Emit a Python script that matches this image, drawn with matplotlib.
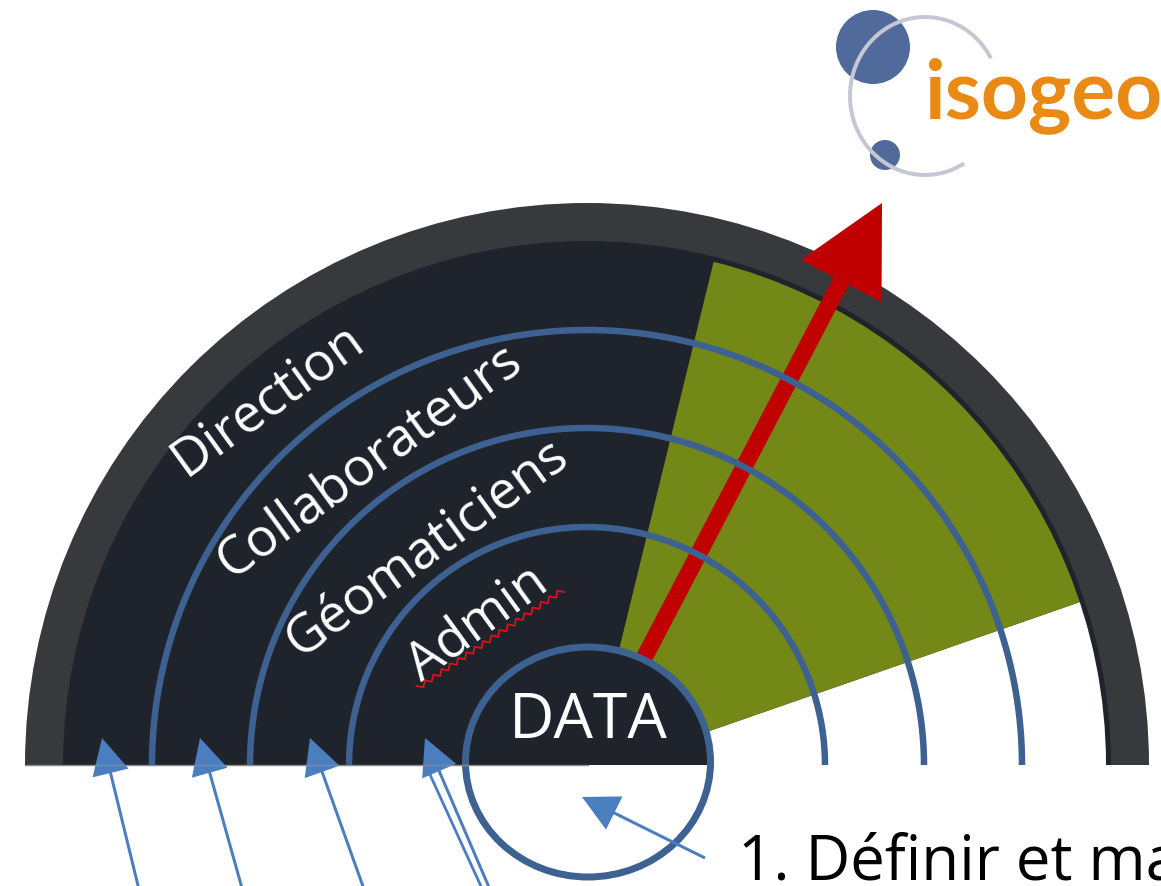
import numpy as np
import matplotlib
matplotlib.use("Agg")
import matplotlib.pyplot as plt
from matplotlib.patches import Wedge, Ellipse, Circle, FancyArrow

W, H = 1161, 886
PX = 0.72  # points per pixel at dpi 100

# geometry (pixel coords, y downwards)
centre = (587, 765)
outer_r = 562
ring_r = 524
green_r = 519
wedge_apex = (589, 773)
green_from, green_to = 19.2, 76.3    # screen angles from the apex, degrees
arc_radii = [435, 337, 238]

ring_labels = ["Direction", "Collaborateurs", "Géomaticiens", "Admin"]
label_x = [268, 370, 427, 478]
label_y = [400, 462, 548, 624]
label_rot = 36

data_label = "DATA"
data_xy = (588, 762)
data_w, data_h = 245, 230

# red arrow (start, tip)
red_start = (643, 660)
red_tip = (882, 203)

# blue pointer arrows from below
ptr_tail_x = [143, 247, 370, 497]
ptr_tip_x = [102, 200, 310, 425]
ptr_tail_y = 886
ptr_tip_y = 738
data_ptr_tail = (705, 858)
data_ptr_tip = (582, 797)

caption = "1. Définir et ma"

# logo
logo_text = "isogeo"
logo_ring_c = (925, 96)
big_dot = (873, 47, 37)
small_dot = (885, 155, 15)

DARK = "#1f232b"
RING = "#38393d"
GREEN = "#748817"
BLUE = "#3d6191"
PTR = "#4a7ebf"
RED = "#c00000"

plt.rcParams["font.family"] = ["Open Sans", "DejaVu Sans"]

fig = plt.figure(figsize=(W / 100, H / 100), dpi=100)
ax = fig.add_axes([0, 0, 1, 1])
ax.set_xlim(0, W)
ax.set_ylim(H, 0)
ax.axis("off")

# y axis is inverted, so screen angle a becomes -a in data
ax.add_patch(Wedge(centre, outer_r, -180, 0, width=outer_r - ring_r + 2, color=RING, lw=0))
ax.add_patch(Wedge(centre, ring_r, -180, 0, color=DARK, lw=0))
inner = Wedge(centre, green_r, -180, 0, transform=ax.transData)
white = Wedge(wedge_apex, 700, -green_from, 0, color="white", lw=0)
ax.add_patch(white)
white.set_clip_path(inner)
green = Wedge(wedge_apex, 700, -green_to, -green_from, color=GREEN, lw=0)
ax.add_patch(green)
green.set_clip_path(inner)
ax.plot([centre[0] - outer_r, data_xy[0]], [centre[1], centre[1]], color="#8a8a8a", lw=1)

for r in arc_radii:
    t = np.linspace(0, np.pi, 300)
    ax.plot(centre[0] + r * np.cos(t), centre[1] - r * np.sin(t), color=BLUE, lw=6.5 * PX,
            solid_capstyle="butt")

dx, dy = red_tip[0] - red_start[0], red_tip[1] - red_start[1]
ax.add_patch(FancyArrow(red_start[0], red_start[1], dx, dy, width=17, head_width=91,
                        head_length=88, length_includes_head=True, color=RED, lw=0))

# DATA disc: dark upper half down to the base line, outline all round
ax.add_patch(Wedge((data_xy[0], centre[1]), data_w / 2 - 1, -180, 0, color=DARK, lw=0))
ax.add_patch(Ellipse(data_xy, data_w, data_h, fill=False, ec=BLUE, lw=7 * PX))
ax.text(data_xy[0], 722, data_label, color="white", fontsize=45, ha="center", va="center")

for lab, x, y in zip(ring_labels, label_x, label_y):
    ax.text(x, y, lab, color="white", fontsize=38, rotation=label_rot, rotation_mode="anchor",
            ha="center", va="center")

# spell-check squiggle under Admin
p0, p1 = np.array([418, 688]), np.array([563, 590])
n = 36
s = np.linspace(0, 1, n)
d = (p1 - p0) / np.linalg.norm(p1 - p0)
perp = np.array([d[1], -d[0]])
amp = np.where(np.arange(n) % 2 == 0, 2.5, -2.5)
zz = p0 + np.outer(s, p1 - p0) + np.outer(amp, perp)
ax.plot(zz[:, 0], zz[:, 1], color="#e0101a", lw=1.3)

# pointer arrows
for tx, hx in zip(ptr_tail_x, ptr_tip_x):
    ax.add_patch(FancyArrow(tx, ptr_tail_y + 20, hx - tx, ptr_tip_y - ptr_tail_y - 20, width=3,
                            head_width=37, head_length=36, length_includes_head=True,
                            color=PTR, lw=0))
ax.plot([ptr_tail_x[-1] - 7, ptr_tip_x[-1] + 2], [ptr_tail_y + 20, ptr_tip_y + 30],
        color=PTR, lw=2)
ax.add_patch(FancyArrow(data_ptr_tail[0], data_ptr_tail[1],
                        data_ptr_tip[0] - data_ptr_tail[0], data_ptr_tip[1] - data_ptr_tail[1],
                        width=3, head_width=37, head_length=36, length_includes_head=True,
                        color=PTR, lw=0))

ax.text(738, 880, caption, color="black", fontsize=44.5, ha="left", va="baseline")

# logo
phi = np.radians(np.linspace(30, 300, 200))
ax.plot(logo_ring_c[0] + 75 * np.cos(phi), logo_ring_c[1] - 79 * np.sin(phi),
        color="#c6c7d3", lw=4 * PX)
ax.add_patch(Circle(big_dot[:2], big_dot[2], color="#506a9b", lw=0))
ax.add_patch(Circle(small_dot[:2], small_dot[2], color="#506a9b", lw=0))
ax.text(924, 118, logo_text, color="#e98a15", fontsize=59, fontfamily="Lato",
        fontweight="bold", ha="left", va="baseline")

fig.savefig("out.png", dpi=100)
